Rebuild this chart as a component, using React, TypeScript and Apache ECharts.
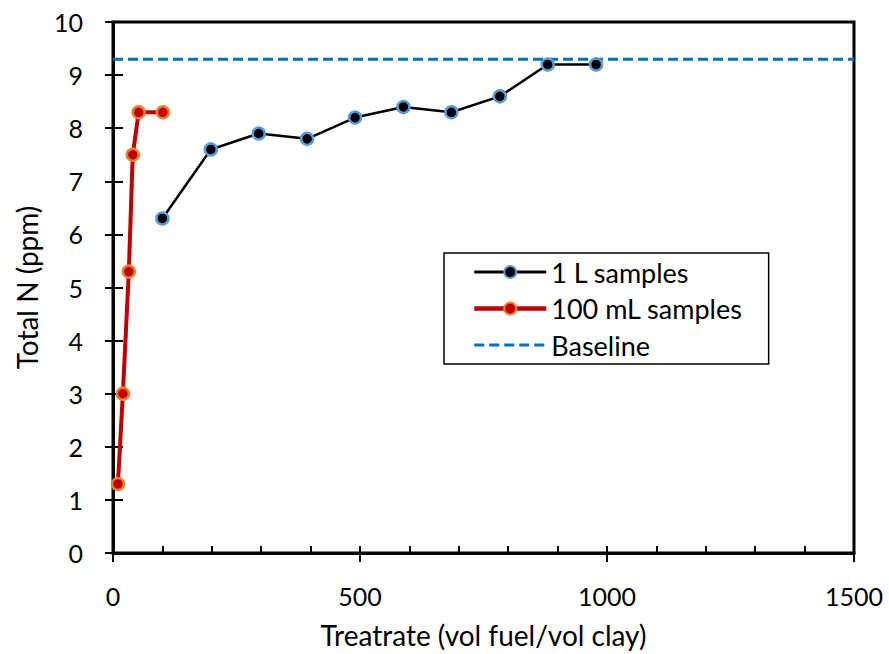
import React, { useEffect, useRef } from "react";
import * as echarts from "echarts";

const oneLiterX = [100, 198, 295, 393, 490, 588, 685, 783, 880, 978];
const oneLiterY = [6.3, 7.6, 7.9, 7.8, 8.2, 8.4, 8.3, 8.6, 9.2, 9.2];
const smallX = [10, 20, 32, 40, 52, 101];
const smallY = [1.3, 3.0, 5.3, 7.5, 8.3, 8.3];
const baselineX = [0, 1500];
const baselineValue = 9.3;
const seriesNames = ["1 L samples", "100 mL samples", "Baseline"];

const FONT = "Lato";

export default function App() {
  const ref = useRef<HTMLDivElement>(null);
  useEffect(() => {
    if (!ref.current) return;
    const chart = echarts.init(ref.current, null, { renderer: "svg" });
    const common = {
      min: 0,
      splitLine: { show: false },
    };
    chart.setOption({
      animation: false,
      backgroundColor: "#fff",
      grid: {
        left: 113,
        top: 22,
        right: 35,
        bottom: 100,
        show: true,
        borderColor: "#000",
        borderWidth: 3,
        containLabel: false,
      },
      legend: {
        orient: "vertical",
        left: 444,
        top: 253,
        data: [
          { name: seriesNames[0], lineStyle: { width: 3 } },
          { name: seriesNames[1], lineStyle: { width: 4.5 } },
          { name: seriesNames[2], itemStyle: { opacity: 0 }, lineStyle: { width: 3 } },
        ],
        itemWidth: 72,
        itemHeight: 15,
        itemGap: 9.5,
        padding: [5.5, 26, 5.5, 28],
        borderColor: "#000",
        borderWidth: 1.5,
        backgroundColor: "#fff",
        textStyle: { fontFamily: FONT, fontSize: 27, color: "#000", lineHeight: 27 },
      },
      xAxis: [
        {
          type: "value",
          ...common,
          max: 1500,
          interval: 500,
          position: "bottom",
          name: "Treatrate (vol fuel/vol clay)",
          nameLocation: "middle",
          nameGap: 68,
          nameTextStyle: { fontFamily: FONT, fontSize: 28, color: "#000" },
          axisLine: { show: true, lineStyle: { color: "#000", width: 3 } },
          axisTick: { show: true, inside: false, length: 9, lineStyle: { color: "#000", width: 2 } },
          axisLabel: {
            fontFamily: FONT,
            fontSize: 25,
            color: "#000",
            margin: 30,
            formatter: (v: number) => String(v),
          },
        },
        {
          type: "value",
          ...common,
          max: 1500,
          interval: 100,
          position: "bottom",
          axisLine: { show: false },
          axisTick: { show: true, inside: true, length: 7, lineStyle: { color: "#000", width: 2 } },
          axisLabel: { show: false },
        },
      ],
      yAxis: [
        {
          type: "value",
          ...common,
          max: 10,
          interval: 1,
          position: "left",
          name: "Total N (ppm)",
          nameLocation: "middle",
          nameGap: 72,
          nameTextStyle: { fontFamily: FONT, fontSize: 28, color: "#000" },
          axisLine: { show: true, lineStyle: { color: "#000", width: 3 } },
          axisTick: { show: true, inside: false, length: 8, lineStyle: { color: "#000", width: 2 } },
          axisLabel: { fontFamily: FONT, fontSize: 25, color: "#000", margin: 30 },
        },
        {
          type: "value",
          ...common,
          max: 10,
          interval: 1,
          position: "left",
          axisLine: { show: false },
          axisTick: { show: true, inside: true, length: 10, lineStyle: { color: "#000", width: 2 } },
          axisLabel: { show: false },
        },
      ],
      series: [
        {
          name: seriesNames[0],
          type: "line",
          data: oneLiterX.map((x, i) => [x, oneLiterY[i]]),
          symbol: "circle",
          symbolSize: 12,
          lineStyle: { color: "#000", width: 2.5 },
          itemStyle: { color: "#000", borderColor: "#5B9BD5", borderWidth: 2.5 },
          z: 3,
        },
        {
          name: seriesNames[1],
          type: "line",
          data: smallX.map((x, i) => [x, smallY[i]]),
          symbol: "circle",
          symbolSize: 12,
          lineStyle: { color: "#C00000", width: 4 },
          itemStyle: { color: "#C00000", borderColor: "#ED7D31", borderWidth: 2.5 },
          z: 4,
        },
        {
          name: seriesNames[2],
          type: "line",
          data: baselineX.map((x) => [x, baselineValue]),
          symbol: "none",
          lineStyle: { color: "#0070C0", width: 3, type: [10, 5] },
          itemStyle: { color: "#0070C0" },
          z: 2,
        },
      ],
    });
    return () => chart.dispose();
  }, []);
  return <div ref={ref} style={{ width: 889, height: 654, position: "absolute", left: 0, top: 0 }} />;
}
